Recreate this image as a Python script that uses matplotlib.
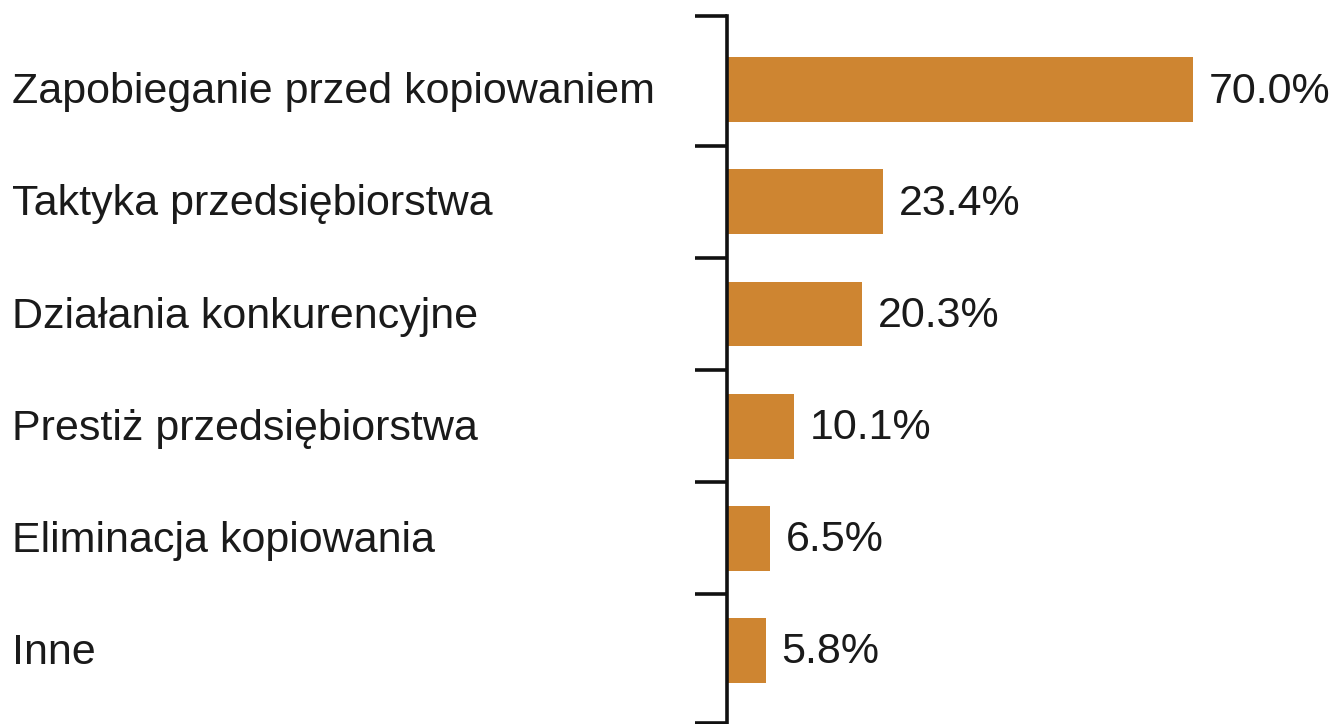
import matplotlib
matplotlib.use("Agg")
import matplotlib.pyplot as plt

categories = ["Zapobieganie przed kopiowaniem", "Taktyka przedsiębiorstwa",
              "Działania konkurencyjne", "Prestiż przedsiębiorstwa",
              "Eliminacja kopiowania", "Inne"]
values = [70.0, 23.4, 20.3, 10.1, 6.5, 5.8]
value_labels = ["70.0%", "23.4%", "20.3%", "10.1%", "6.5%", "5.8%"]

plt.rcParams['font.family'] = ["Liberation Sans", "DejaVu Sans"]

W, H = 1331, 724
fig = plt.figure(figsize=(W/100, H/100), dpi=100)
ax_left = 727 / W
ax_top = 16
ax = fig.add_axes([ax_left, 0, 1 - ax_left, (H - ax_top) / H])

color = "#CE8531"
y = list(range(len(categories)))
ax.barh(y, values, height=0.58, color=color, edgecolor="none")

px_per_unit = 466 / 70.0
ax.set_xlim(0, (W - 727) / px_per_unit)
ax.set_ylim(5.66, -0.66)

for yi, v, lab in zip(y, values, value_labels):
    ax.text(v + 16 / px_per_unit, yi + 0.02, lab, va="center", ha="left",
            fontsize=31, color="#1a1a1a")

for yi, cat in zip(y, categories):
    fig.text(12 / W, 1 - (92 + 112.3 * yi) / H, cat, va="center", ha="left",
             fontsize=31, color="#1a1a1a")

for s in ["top", "right", "bottom"]:
    ax.spines[s].set_visible(False)
ax.spines["left"].set_linewidth(2.6)
ax.spines["left"].set_color("#111111")
ax.set_xticks([])
ax.set_yticks([-0.66, 0.5, 1.5, 2.5, 3.5, 4.5, 5.655])
ax.set_yticklabels([])
ax.tick_params(axis="y", length=23, width=2.6, color="#111111", direction="out")

fig.savefig("out.png", dpi=100)
